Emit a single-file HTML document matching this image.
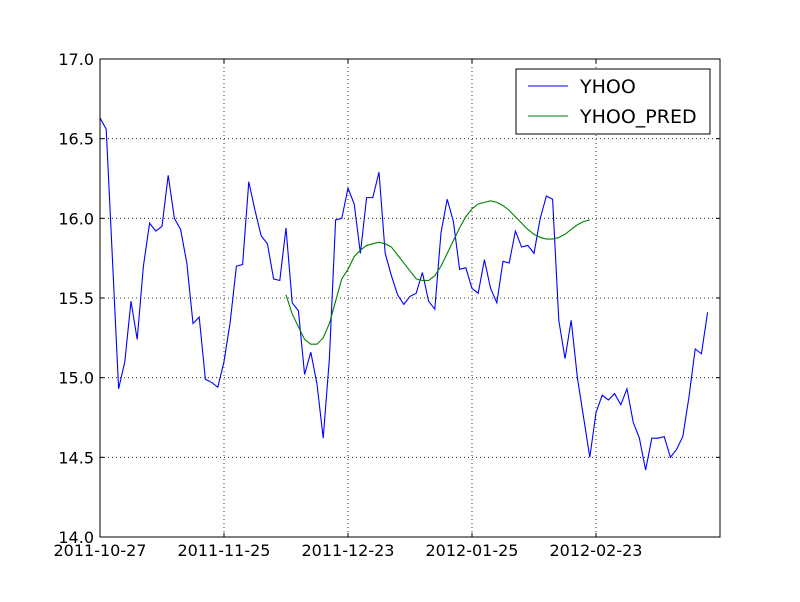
<!DOCTYPE html>
<html><head><meta charset="utf-8"><style>
body{margin:0;background:#fff;}
svg text{font-family:"DejaVu Sans","Liberation Sans",sans-serif;}
</style></head><body>
<svg id="chart" width="800" height="597" xmlns="http://www.w3.org/2000/svg">
<rect x="0" y="0" width="800" height="597" fill="#fff"/>
<g id="grid"></g>
<g id="series"></g>
<rect x="100" y="59" width="620" height="478" fill="none" stroke="#000" stroke-width="1"/>
<g id="ticks"></g>
<g>
<rect x="516" y="69" width="194" height="65" fill="#fff" stroke="#000"/>
<line x1="528" y1="86" x2="568" y2="86" stroke="#0000ff"/>
<text x="580" y="93" font-size="19">YHOO</text>
<line x1="528" y1="116" x2="568" y2="116" stroke="#008000"/>
<text x="580" y="123" font-size="19">YHOO_PRED</text>
</g>
</svg>
<script>
const yhoo = [16.63,16.56,15.75,14.93,15.1,15.48,15.24,15.70,15.97,15.92,15.95,16.27,16.00,15.93,15.72,15.34,15.38,14.99,14.97,14.94,
15.1,15.35,15.70,15.71,16.23,16.05,15.89,15.84,15.62,15.61,15.94,15.47,15.42,15.02,15.16,14.96,14.62,15.12,15.99,16.00,
16.19,16.09,15.78,16.13,16.13,16.29,15.78,15.64,15.52,15.46,15.51,15.53,15.66,15.48,15.43,15.91,16.12,15.98,15.68,15.69,
15.56,15.53,15.74,15.56,15.47,15.73,15.72,15.92,15.82,15.83,15.78,16.00,16.14,16.12,15.36,15.12,15.36,15.00,14.75,14.50,
14.78,14.89,14.86,14.90,14.83,14.93,14.72,14.62,14.42,14.62,14.62,14.63,14.50,14.55,14.63,14.88,15.18,15.15,15.41];
const predStart = 30;
const yhooPred = [15.52,15.40,15.32,15.24,15.21,15.21,15.25,15.34,15.48,15.62,15.68,15.76,15.80,15.83,15.84,15.85,15.84,15.82,15.77,15.72,
15.67,15.62,15.61,15.61,15.64,15.70,15.78,15.86,15.94,16.01,16.06,16.09,16.10,16.11,16.10,16.08,16.05,16.01,15.97,15.93,
15.90,15.88,15.87,15.87,15.88,15.90,15.93,15.96,15.98,15.99];
const xTickIdx = [0,20,40,60,80];
const xTickLabels = ["2011-10-27","2011-11-25","2011-12-23","2012-01-25","2012-02-23"];
const yTicks = [14.0,14.5,15.0,15.5,16.0,16.5,17.0];

const X0=100,X1=720,Y0=537,Y1=59, NMAX=100, YMIN=14, YMAX=17;
function xs(i){return X0+(X1-X0)*i/NMAX;}
function ys(v){return Y0-(Y0-Y1)*(v-YMIN)/(YMAX-YMIN);}
const NS="http://www.w3.org/2000/svg";
function mk(tag,attrs,parent){const e=document.createElementNS(NS,tag);for(const k in attrs)e.setAttribute(k,attrs[k]);parent.appendChild(e);return e;}
const grid=document.getElementById('grid'), ticks=document.getElementById('ticks'), series=document.getElementById('series');
xTickIdx.forEach((idx,k)=>{
  const x=xs(idx);
  const g=mk('line',{x1:x,y1:Y1,x2:x,y2:Y0,stroke:'#000','stroke-dasharray':'1,3','stroke-width':0.8},grid);
  
  
  const t1=mk('line',{x1:x,y1:Y0,x2:x,y2:Y0-4,stroke:'#000'},ticks);
  
  
  const t2=mk('line',{x1:x,y1:Y1,x2:x,y2:Y1+4,stroke:'#000'},ticks);
  
  
  const l=mk('text',{x:x,y:Y0+19,'font-size':16,'text-anchor':'middle'},ticks);
  l.textContent=xTickLabels[k];
  
  
});
yTicks.forEach(v=>{
  const y=ys(v);
  const g=mk('line',{x1:X0,y1:y,x2:X1,y2:y,stroke:'#000','stroke-dasharray':'1,3','stroke-width':0.8},grid);
  
  
  const t1=mk('line',{x1:X0,y1:y,x2:X0+4,y2:y,stroke:'#000'},ticks);
  
  
  const t2=mk('line',{x1:X1,y1:y,x2:X1-4,y2:y,stroke:'#000'},ticks);
  
  
  const l=mk('text',{x:X0-6,y:y+6,'font-size':16,'text-anchor':'end'},ticks);
  l.textContent=v.toFixed(1);
  
  
});
const p1=mk('polyline',{points:yhoo.map((v,i)=>xs(i)+','+ys(v)).join(' '),fill:'none',stroke:'#0000ff','stroke-width':1.1},series);


const p2=mk('polyline',{points:yhooPred.map((v,i)=>xs(i+predStart)+','+ys(v)).join(' '),fill:'none',stroke:'#008000','stroke-width':1.1},series);


</script>
</body></html>
